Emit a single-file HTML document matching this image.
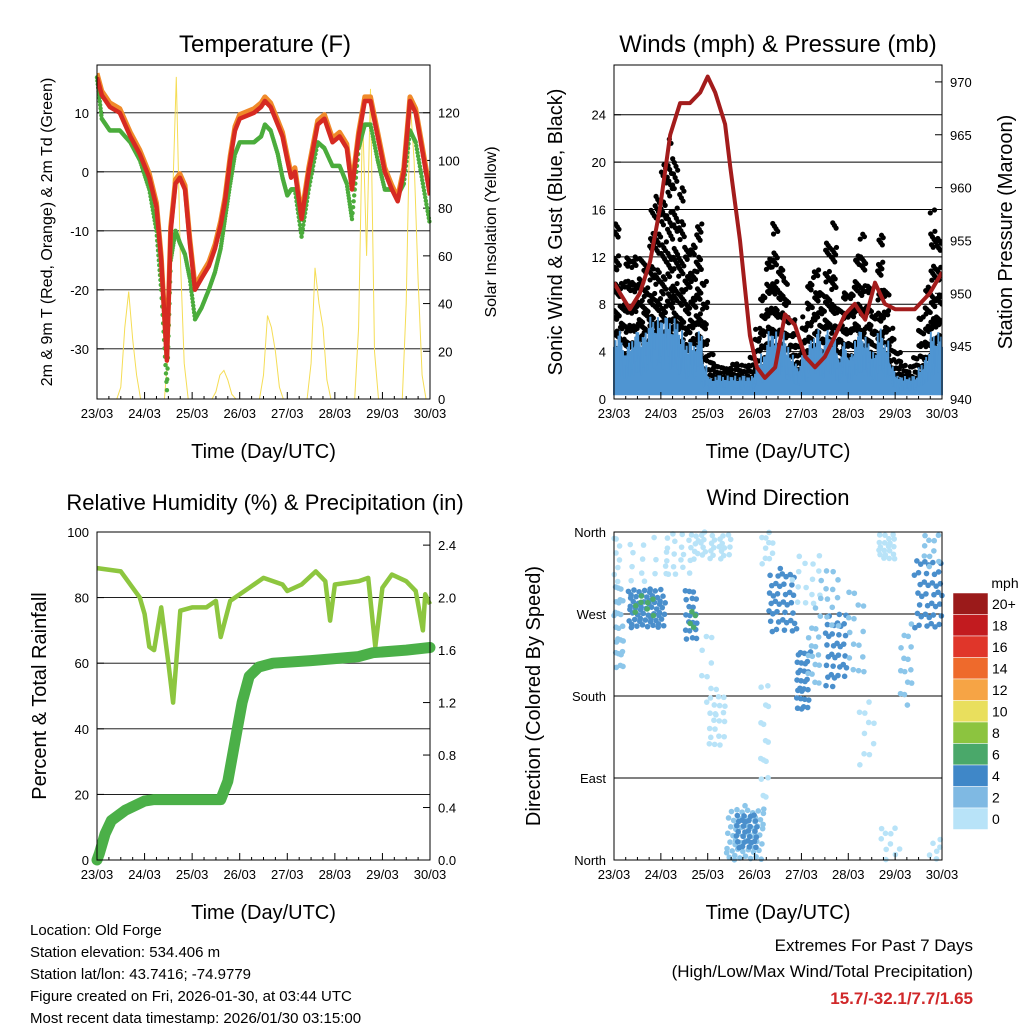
<!DOCTYPE html>
<html><head><meta charset="utf-8"><style>
html,body{margin:0;padding:0;background:#fff;}
svg{display:block;font-family:"Liberation Sans",Arial,sans-serif;}
</style></head><body>
<svg id="chart" width="1024" height="1024" viewBox="0 0 1024 1024" xmlns="http://www.w3.org/2000/svg"></svg>
<script>
// ---------- DATA ----------
const dayLabels = ["23/03","24/03","25/03","26/03","27/03","28/03","29/03","30/03"];
// Temperature panel
const tempDays = [0,0.1,0.27,0.48,0.7,0.9,1.1,1.25,1.35,1.47,1.55,1.65,1.74,1.85,1.95,2.06,2.2,2.35,2.48,2.6,2.69,2.8,2.9,3.0,3.3,3.45,3.53,3.65,3.8,3.9,4.0,4.08,4.16,4.3,4.45,4.64,4.78,4.95,5.1,5.25,5.36,5.5,5.63,5.75,5.9,6.05,6.2,6.32,6.45,6.58,6.7,6.85,7.0];
const tempRed = [16,13,11,10,6,3,-1,-6,-15,-32,-10,-2,-1,-3,-12,-20,-18,-16,-13,-9,-5,2,7,9,10,11,12,11,8,6,2,-1,0,-8,0,8,9,5,6,4,-3,6,12,12,6,0,-3,-5,0,12,10,3,-4];
const dewGreen = [16,9,7,7,5,2,-3,-10,-20,-37,-15,-10,-12,-14,-18,-25,-23,-20,-17,-13,-8,-2,3,5,5,6,8,7,3,-1,-4,-3,-3,-11,-3,5,4,1,1,-2,-8,4,8,8,2,-3,-3,-4,-2,7,5,-2,-9];
// solar insolation, every 2 hours
const solar = [0,0,0,0,0,0,5,30,45,25,10,0, 0,0,0,0,0,0,20,80,135,60,15,0, 0,0,0,0,0,0,3,10,12,8,2,0, 0,0,0,0,0,0,10,35,30,20,5,0, 0,0,0,0,0,0,15,55,40,30,8,0, 0,0,0,0,0,0,30,120,60,130,20,0, 0,0,0,0,0,0,40,125,100,50,10,0, 0];
const tempTicks = [-30,-20,-10,0,10];
const solarTicks = [0,20,40,60,80,100,120];
// Wind panel (3-hour bins)
const gustMax = [15,11,12,13,12,12,16,18, 20,22,21,18,14,13,16,10, 4,3,3,3,3,3,3,4, 6,9,13,15,12,10,7,5, 7,10,12,9,14,15,8,10, 9,13,14,10,8,14,10,6, 4,3,3,4,7,10,16,14];
const sonicMax = [6,5,5,6,6,6,7,7, 7,7,7,6,5,5,6,3, 2,2,2,2,2,2,2,2, 3,4,6,6,6,5,4,3, 4,5,6,5,6,6,4,5, 4,6,6,5,4,6,5,3, 2,2,2,2,3,4,6,6];
const presDays = [0,0.13,0.34,0.55,0.77,0.98,1.2,1.41,1.62,1.84,2.0,2.16,2.37,2.48,2.69,2.9,3.05,3.22,3.44,3.65,3.86,4.08,4.29,4.5,4.72,4.93,5.14,5.36,5.57,5.78,6.0,6.21,6.42,6.74,7.0];
const presMb = [951,950,948.5,950,953,958,965,968,968,969,970.5,969,966,962,955,946,943,942,943,948,947,944,943,944,946,948,949,947.5,951,949,948.5,948.5,948.5,950,952];
const windTicks = [0,4,8,12,16,20,24];
const presTicks = [940,945,950,955,960,965,970];
// RH / precip panel
const rhDays = [0,0.5,0.9,1.0,1.1,1.2,1.35,1.5,1.6,1.75,2.0,2.3,2.5,2.6,2.8,3.2,3.5,3.9,4.0,4.3,4.6,4.8,4.9,5.0,5.5,5.7,5.85,6.0,6.2,6.5,6.7,6.85,6.9,7.0];
const rhVals = [89,88,80,75,65,64,77,60,48,76,77,77,79,68,79,83,86,84,82,84,88,85,73,84,85,86,65,83,87,85,82,70,81,78];
const pcpDays = [0,0.05,0.17,0.3,0.6,1.0,1.2,2.6,2.75,2.95,3.05,3.2,3.4,3.7,4.5,5.5,5.8,6.5,7.0];
const pcpVals = [0,0.05,0.2,0.3,0.38,0.45,0.46,0.46,0.6,1.0,1.2,1.4,1.47,1.5,1.52,1.55,1.58,1.6,1.62];
const rhTicks = [0,20,40,60,80,100];
const pcpTicks = [0,0.4,0.8,1.2,1.6,2.0,2.4];
// Wind direction clusters: [dayStart, dayEnd, dirLow, dirHigh, speedClass, count]
const dirClusters = [[0,0.2,200,300,1,25],[0,0.15,300,355,0,8],[0.3,1.1,255,300,2,60],[0.4,0.9,265,290,3,8],[0.2,1.2,300,355,0,15],[1.1,1.8,310,360,0,20],[1.5,1.8,240,300,2,20],[1.6,1.75,250,280,3,4],[1.7,2.5,330,360,0,30],[2.0,2.4,120,180,0,20],[1.8,2.2,150,250,0,10],[2.4,3.2,0,60,1,60],[2.6,3.1,10,50,2,30],[3.1,3.3,60,200,0,15],[3.3,3.9,250,320,2,40],[3.1,3.4,320,360,0,10],[3.9,4.2,160,230,2,30],[4.1,4.4,190,260,1,15],[3.8,4.4,280,340,0,15],[4.5,5.0,190,270,2,35],[4.3,4.8,250,320,1,15],[5.0,5.4,200,300,1,15],[5.2,5.6,100,180,0,10],[5.6,6.0,330,360,0,20],[5.7,6.1,0,40,0,10],[6.1,6.4,170,260,1,15],[6.4,7,250,330,2,40],[6.6,7,320,360,1,10],[6.7,7,0,30,0,6]];
const dirLabels = ["North","East","South","West","North"];
const barLabels = ["20+","18","16","14","12","10","8","6","4","2","0"];
const barColors = ["#9b1a1a","#c21b1f","#e0362a","#ee6a2c","#f6a445","#e9df5d","#8cc43f","#4aa86a","#3f87c8","#7fb9e3","#b8e3f8"];
const speedColors = ["#b8e3f8","#8cc6ea","#4a8fcc","#4daa6a"];

// ---------- HELPERS ----------
const NS="http://www.w3.org/2000/svg";
const S=document.getElementById('chart');
function el(tag,attrs,parent){const e=document.createElementNS(NS,tag);for(const k in attrs)e.setAttribute(k,attrs[k]);(parent||S).appendChild(e);return e;}
function txt(x,y,s,size,anchor,extra){const e=el('text',Object.assign({x:x,y:y,'font-size':size,'text-anchor':anchor||'middle',fill:'#000'},extra||{}));e.textContent=s;return e;}
function lin(v,d0,d1,r0,r1){return r0+(v-d0)/(d1-d0)*(r1-r0);}
let seq=1;
function nextPair(){seq++;return [(seq*0.7548776662)%1,(seq*0.5698402910)%1];}

function panel(P,name){
  const g=el('g',{});
  
  
  return g;
}
function frame(P,g){
  const r=el('rect',{x:P.x0,y:P.y0,width:P.x1-P.x0,height:P.y1-P.y0,fill:'none',stroke:'#000','stroke-width':1},g);
  
  
}
function xAxis(P,g){
  for(let d=0;d<=7;d++){
    const x=lin(d,0,7,P.x0,P.x1);
    const t=el('line',{x1:x,x2:x,y1:P.y1,y2:P.y1-7,stroke:'#000'},g);
    
    
    const l=txt(x,P.y1+19,dayLabels[d],13);
    
    
    if(d<7){for(let q=1;q<4;q++){const xm=lin(d+q/4,0,7,P.x0,P.x1);
      const m=el('line',{x1:xm,x2:xm,y1:P.y1,y2:P.y1-3,stroke:'#000'},g);
      
      }}
  }
  const xt=txt((P.x0+P.x1)/2,P.y1+59,"Time (Day/UTC)",20);
  
  
}
function yLeft(P,g,ticks,lo,hi,grid,fmt){
  ticks.forEach(v=>{
    const y=lin(v,lo,hi,P.y1,P.y0);
    if(grid && y>P.y0+1 && y<P.y1-1){const gl=el('line',{x1:P.x0,x2:P.x1,y1:y,y2:y,stroke:'#000','stroke-width':0.9},g);
      
      }
    const t=el('line',{x1:P.x0,x2:P.x0+7,y1:y,y2:y,stroke:'#000'},g);
    
    
    const l=txt(P.x0-8,y+5,fmt?fmt(v):String(v),13,'end');
    
    
  });
}
function yRight(P,g,ticks,lo,hi,fmt){
  ticks.forEach(v=>{
    const y=lin(v,lo,hi,P.y1,P.y0);
    const t=el('line',{x1:P.x1,x2:P.x1-7,y1:y,y2:y,stroke:'#000'},g);
    
    
    const l=txt(P.x1+8,y+5,fmt?fmt(v):String(v),13,'start');
    
    
  });
}
function vlabel(x,y,s,size){const e=txt(x,y,s,size,'middle',{transform:`rotate(-90 ${x} ${y})`});return e;}
function pathFrom(xs,ys){return xs.map((x,i)=>(i?'L':'M')+x.toFixed(1)+','+ys[i].toFixed(1)).join('');}

// ---------- PANEL 1: TEMPERATURE ----------
{
const P={x0:97,x1:430,y0:65,y1:399};
const tLo=-38.5,tHi=18.1,sLo=0,sHi=140;
const g=panel(P,'temperature-panel');
const X=d=>lin(d,0,7,P.x0,P.x1), Yt=v=>lin(v,tLo,tHi,P.y1,P.y0), Ys=v=>lin(v,sLo,sHi,P.y1,P.y0);
const clip=el('clipPath',{id:'c1'},g);el('rect',{x:P.x0,y:P.y0,width:P.x1-P.x0,height:P.y1-P.y0},clip);
yLeft(P,g,tempTicks,tLo,tHi,true);
yRight(P,g,solarTicks,sLo,sHi);
const sp=el('path',{d:pathFrom(solar.map((v,i)=>X(i/12)),solar.map(Ys)),fill:'none',stroke:'#f5dd55','stroke-width':1,'clip-path':'url(#c1)'},g);


dewGreen.forEach((v,i)=>{ if(i<dewGreen.length-1){const n=12;for(let k=0;k<n;k++){const f=k/n;
  const c=el('circle',{cx:X(tempDays[i]+(tempDays[i+1]-tempDays[i])*f),cy:Yt(v+(dewGreen[i+1]-v)*f),r:2.2,fill:'#4bac3c'},g);
  
  }}});
const op=el('path',{d:pathFrom(tempDays.map(X),tempRed.map(v=>Yt(v+0.7))),fill:'none',stroke:'#f08a2a','stroke-width':5,'stroke-linejoin':'round','clip-path':'url(#c1)'},g);


const rp=el('path',{d:pathFrom(tempDays.map(X),tempRed.map(Yt)),fill:'none',stroke:'#d62a22','stroke-width':4.5,'stroke-linejoin':'round','clip-path':'url(#c1)'},g);


frame(P,g);xAxis(P,g);
const ti=txt(265,52,"Temperature (F)",24);
const yl=vlabel(52,232,"2m & 9m T (Red, Orange) & 2m Td (Green)",16);
const y2=vlabel(496,232,"Solar Insolation (Yellow)",16);
}

// ---------- PANEL 2: WINDS ----------
{
const P={x0:614,x1:942,y0:65,y1:399};
const wLo=0,wHi=28.2,pLo=940,pHi=971.6;
const g=panel(P,'winds-panel');
const X=d=>lin(d,0,7,P.x0,P.x1), Yw=v=>lin(v,wLo,wHi,P.y1,P.y0), Yp=v=>lin(v,pLo,pHi,P.y1,P.y0);
const clip=el('clipPath',{id:'c2'},g);el('rect',{x:P.x0,y:P.y0,width:P.x1-P.x0,height:P.y1-P.y0},clip);
yLeft(P,g,windTicks,wLo,wHi,true);
yRight(P,g,presTicks,pLo,pHi);
const bw=(P.x1-P.x0)/gustMax.length;
gustMax.forEach((gm,i)=>{
  const lo=Math.max(1,sonicMax[i]*0.5), n=Math.round(10+gm*2.4);
  for(let k=0;k<n;k++){
    const [fx,fy0]=nextPair(); const fy=Math.pow(fy0,1.7);
    const c=el('circle',{cx:P.x0+bw*(i+fx),cy:Yw(lo+(gm-lo)*fy),r:2.6,fill:'#000','clip-path':'url(#c2)'},g);
    
    
  }
});
const xs=sonicMax.map((v,i)=>P.x0+bw*(i+0.5));
const top=sonicMax.map(v=>Yw(v*0.72));
let d='M'+P.x0+','+Yw(0.4)+' L'+P.x0+','+top[0]+' '+xs.map((x,i)=>'L'+x.toFixed(1)+','+top[i].toFixed(1)).join(' ')+' L'+P.x1+','+top[top.length-1]+' L'+P.x1+','+Yw(0.4)+'Z';
const ba=el('path',{d:d,fill:'#4f95d2',stroke:'#4f95d2','stroke-width':2},g);


sonicMax.forEach((sm,i)=>{
  for(let k=0;k<7;k++){
    const [fx,fy]=nextPair();
    const v=sm*(0.55+0.45*fy);
    const c=el('line',{x1:P.x0+bw*(i+fx),x2:P.x0+bw*(i+fx),y1:Yw(v*0.6),y2:Yw(v),stroke:'#4f95d2','stroke-width':2,'clip-path':'url(#c2)'},g);
    
    
  }
});
const pp=el('path',{d:pathFrom(presDays.map(X),presMb.map(Yp)),fill:'none',stroke:'#a31c1c','stroke-width':4,'stroke-linejoin':'round','clip-path':'url(#c2)'},g);


frame(P,g);xAxis(P,g);
const ti=txt(778,52,"Winds (mph) & Pressure (mb)",24);
const yl=vlabel(562,232,"Sonic Wind & Gust (Blue, Black)",20);
const y2=vlabel(1012,232,"Station Pressure (Maroon)",20);
}

// ---------- PANEL 3: RH & PRECIP ----------
{
const P={x0:97,x1:430,y0:532,y1:860};
const g=panel(P,'humidity-panel');
const X=d=>lin(d,0,7,P.x0,P.x1), Yr=v=>lin(v,0,100,P.y1,P.y0), Yp=v=>lin(v,0,2.5,P.y1,P.y0);
yLeft(P,g,rhTicks,0,100,true);
yRight(P,g,pcpTicks,0,2.5,v=>v.toFixed(1));
const rp=el('path',{d:pathFrom(rhDays.map(X),rhVals.map(Yr)),fill:'none',stroke:'#8dc63f','stroke-width':4.5,'stroke-linejoin':'round'},g);


const pp=el('path',{d:pathFrom(pcpDays.map(X),pcpVals.map(Yp)),fill:'none',stroke:'#4bb048','stroke-width':11,'stroke-linejoin':'round','stroke-linecap':'round'},g);


frame(P,g);xAxis(P,g);
const ti=txt(265,510,"Relative Humidity (%) & Precipitation (in)",22);
const yl=vlabel(46,696,"Percent & Total Rainfall",20);
}

// ---------- PANEL 4: WIND DIRECTION ----------
{
const P={x0:614,x1:942,y0:532,y1:860};
const g=panel(P,'wind-direction-panel');
const X=d=>lin(d,0,7,P.x0,P.x1), Yd=v=>lin(v,0,360,P.y1,P.y0);
dirLabels.forEach((s,i)=>{const y=Yd(i*90);
  if(i>0&&i<4){const gl=el('line',{x1:P.x0,x2:P.x1,y1:y,y2:y,stroke:'#000','stroke-width':0.9},g);}
  const t=el('line',{x1:P.x0,x2:P.x0+7,y1:y,y2:y,stroke:'#000'},g);
  const l=txt(P.x0-8,y+5,s,13,'end');
});
dirClusters.forEach(c=>{
  const [t0,t1,d0,d1,cls,n]=c;
  for(let k=0;k<n;k++){
    const [fx,fy]=nextPair();
    const p=el('circle',{cx:X(t0+(t1-t0)*fx),cy:Yd(d0+(d1-d0)*fy),r:2.8,fill:speedColors[cls]},g);
    
    
  }
});
frame(P,g);xAxis(P,g);
const ti=txt(778,505,"Wind Direction",22);
const yl=vlabel(540,696,"Direction (Colored By Speed)",20);
const cb=el('g',{},g);


const mph=txt(1005,588,"mph",14);
barLabels.forEach((s,i)=>{
  const y=593+i*21.5;
  const r=el('rect',{x:953,y:y,width:35,height:21.5,fill:barColors[i],stroke:'#fff','stroke-width':0.5},cb);
  
  
  const l=txt(992,y+16,s,14,'start');
  
  
});
}

// ---------- FOOTER TEXT ----------
const info=["Location: Old Forge","Station elevation: 534.406 m","Station lat/lon: 43.7416; -74.9779","Figure created on Fri, 2026-01-30, at 03:44 UTC","Most recent data timestamp: 2026/01/30 03:15:00"];
info.forEach((s,i)=>{const t=txt(30,935+i*22,s,15,'start');});
const e1=txt(973,951,"Extremes For Past 7 Days",17,'end');
const e2=txt(973,977,"(High/Low/Max Wind/Total Precipitation)",17,'end');
const e3=txt(973,1004,"15.7/-32.1/7.7/1.65",17,'end',{fill:'#d0282a','font-weight':'bold'});
</script>
</body></html>
